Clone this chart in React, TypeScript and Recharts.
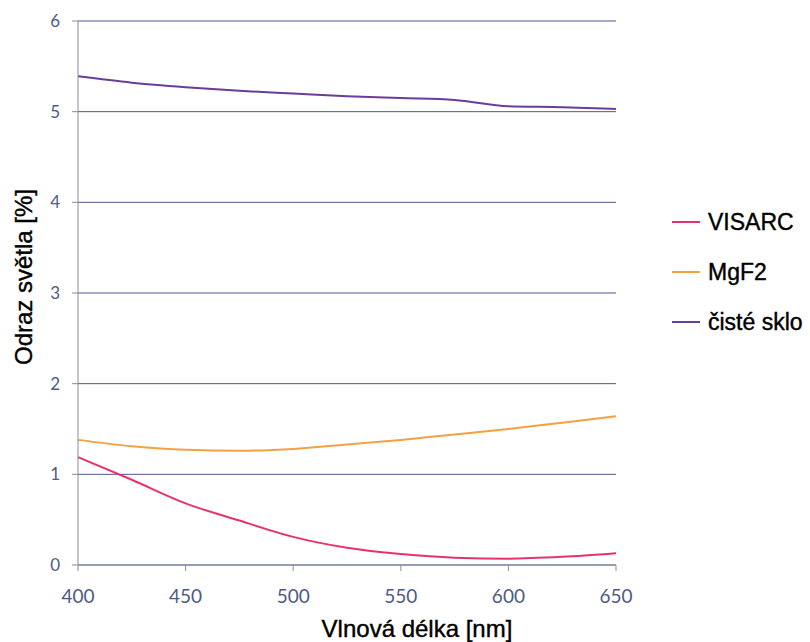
import React from 'react';
import { LineChart, Line, XAxis, YAxis, CartesianGrid } from 'recharts';

const wavelengths = [400, 425, 450, 475, 500, 525, 550, 575, 600, 625, 650];
const visarc = [1.19, 0.94, 0.68, 0.49, 0.31, 0.19, 0.12, 0.08, 0.07, 0.09, 0.13];
const mgf2 = [1.38, 1.31, 1.27, 1.26, 1.28, 1.33, 1.38, 1.44, 1.5, 1.57, 1.64];
const glass = [5.39, 5.32, 5.27, 5.23, 5.2, 5.17, 5.15, 5.13, 5.06, 5.05, 5.03];

const xTicks = [400, 450, 500, 550, 600, 650];
const yTicks = [0, 1, 2, 3, 4, 5, 6];

const series = [
  { key: 'visarc', name: 'VISARC', color: '#e8336a' },
  { key: 'mgf2', name: 'MgF2', color: '#f5a142' },
  { key: 'glass', name: 'čisté sklo', color: '#6a3d9a' },
];

const data = wavelengths.map((w, i) => ({
  w,
  visarc: visarc[i],
  mgf2: mgf2[i],
  glass: glass[i],
}));

const tickColor = '#4f5a85';
const axisColor = '#8a8c99';
const titleFont = '"Liberation Sans", Arial, sans-serif';

// axis titles, placed from the axis viewBox
const renderXLabel = (props: any) => {
  const vb = props.viewBox;
  return (
    <text
      x={vb.x + vb.width / 2 + 70}
      y={vb.y + vb.height - 5}
      textAnchor="middle"
      fill="#000"
      fontSize={24}
      fontFamily={titleFont}
      stroke="#000"
      strokeWidth={0.4}
    >
      Vlnová délka [nm]
    </text>
  );
};

const renderYLabel = (props: any) => {
  const vb = props.viewBox;
  const cx = vb.x + 23;
  const cy = vb.y + vb.height / 2 - 16;
  return (
    <text
      x={cx}
      y={cy}
      transform={`rotate(-90, ${cx}, ${cy})`}
      textAnchor="middle"
      dominantBaseline="central"
      fill="#000"
      fontSize={24}
      fontFamily={titleFont}
      stroke="#000"
      strokeWidth={0.4}
    >
      Odraz světla [%]
    </text>
  );
};

export default function App() {
  return (
    <div style={{ position: 'absolute', left: 0, top: 0, width: 810, height: 642, background: '#fff' }}>
      <LineChart width={810} height={642} data={data} margin={{ top: 21, right: 194, left: 0, bottom: 0 }}>
        <CartesianGrid vertical={false} stroke="#4b5a8c" strokeWidth={1} />
        <XAxis
          dataKey="w"
          type="number"
          domain={[400, 650]}
          ticks={xTicks}
          height={77}
          tickSize={6}
          tickMargin={19}
          stroke={axisColor}
          tick={{ fill: tickColor, fontSize: 19, fontFamily: 'Lato, "Open Sans", sans-serif' }}
          label={renderXLabel}
        />
        <YAxis
          type="number"
          domain={[0, 6]}
          ticks={yTicks}
          width={78}
          tickSize={6}
          tickMargin={12}
          stroke={axisColor}
          tick={{ fill: tickColor, fontSize: 17, fontFamily: 'Lato, "Open Sans", sans-serif' }}
          label={renderYLabel}
        />
        {series.map(s => (
          <Line
            key={s.key}
            type="monotone"
            dataKey={s.key}
            name={s.name}
            stroke={s.color}
            strokeWidth={2}
            dot={false}
            activeDot={false}
            isAnimationActive={false}
          />
        ))}
      </LineChart>
      <div
        style={{
          position: 'absolute',
          left: 672,
          top: 197,
          fontFamily: titleFont,
          fontSize: 23,
          color: '#000',
          WebkitTextStroke: '0.4px #000',
          whiteSpace: 'nowrap',
        }}
      >
        {series.map(s => (
          <div key={s.key} style={{ display: 'flex', alignItems: 'center', height: 50 }}>
            <span style={{ display: 'inline-block', width: 28, height: 2, background: s.color, marginRight: 8 }} />
            <span>{s.name}</span>
          </div>
        ))}
      </div>
    </div>
  );
}
